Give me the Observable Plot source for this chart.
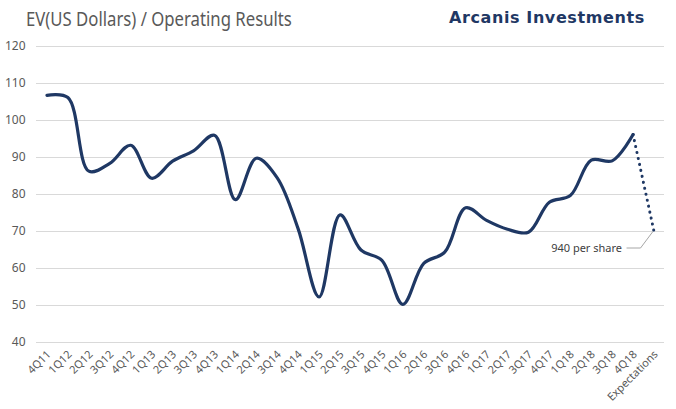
<!DOCTYPE html>
<html>
<head>
<meta charset="utf-8">
<script src="https://cdn.jsdelivr.net/npm/d3@7"></script>
<script src="https://cdn.jsdelivr.net/npm/@observablehq/plot@0.6"></script>
<style>
  html, body { margin: 0; padding: 0; background: #fff; }
  #wrap { position: relative; width: 676px; height: 409px; overflow: hidden; }
  #title { position: absolute; left: 26px; top: 6px; font-family: "Noto Sans", sans-serif; font-size: 19px; color: #595959; white-space: nowrap; transform: scaleX(0.88); transform-origin: left top; }
  #brand { position: absolute; left: 449px; top: 8px; font-family: "DejaVu Sans", sans-serif; font-weight: bold; font-size: 16px; color: #1F3864; white-space: nowrap; letter-spacing: 0.6px; }
  #chart { position: absolute; left: 0; top: 0; }
</style>
</head>
<body>
<div id="wrap">
  <div id="chart"></div>
  <div id="title">EV(US Dollars) / Operating Results</div>
  <div id="brand">Arcanis Investments</div>
</div>
<script>
const quarters = ["4Q11","1Q12","2Q12","3Q12","4Q12","1Q13","2Q13","3Q13","4Q13","1Q14","2Q14","3Q14","4Q14","1Q15","2Q15","3Q15","4Q15","1Q16","2Q16","3Q16","4Q16","1Q17","2Q17","3Q17","4Q17","1Q18","2Q18","3Q18","4Q18"];
const values = [106.8,106.2,86.3,88.4,93.3,84.4,89.0,91.8,96.0,78.6,89.8,84.5,70.7,52.3,74.5,65.0,62.2,50.3,61.4,64.4,76.4,73.0,70.6,69.8,77.9,79.7,89.3,89.1,96.2];
const expectationLabel = "Expectations";
const expectationValue = 70;
const annotationText = "940 per share";
const yTicks = [40,50,60,70,80,90,100,110,120];

const categories = [...quarters, expectationLabel];
const actual = quarters.map((q, i) => ({q, v: values[i]}));
const projected = [{q: quarters[quarters.length - 1], v: values[values.length - 1]}, {q: expectationLabel, v: expectationValue}];
const note = [{q: expectationLabel, v: expectationValue}];

const font = '"Noto Sans", sans-serif';

const chart = Plot.plot({
  width: 676,
  height: 409,
  marginLeft: 36,
  marginRight: 12,
  marginTop: 46,
  marginBottom: 67,
  style: {fontFamily: font, fontSize: "12px", color: "#595959", background: "transparent"},
  x: {type: "point", domain: categories, padding: 0.5, round: false},
  y: {domain: [40, 120]},
  marks: [
    Plot.gridY(yTicks, {stroke: "#d9d9d9", strokeOpacity: 1, strokeWidth: 1}),
    Plot.axisY(yTicks, {tickSize: 0, tickPadding: 11, fill: "#595959", fontSize: 12, label: null}),
    Plot.axisX(categories, {tickSize: 0, tickRotate: -45, tickPadding: 10, dx: 2, fill: "#595959", fontSize: 11, label: null}),
    Plot.line(actual, {x: "q", y: "v", curve: "catmull-rom", stroke: "#1F3864", strokeWidth: 3.2, strokeLinecap: "round"}),
    Plot.line(projected, {x: "q", y: "v", stroke: "#1F3864", strokeWidth: 3, strokeLinecap: "round", strokeDasharray: "0.1,6"}),
    Plot.text(note, {x: "q", y: "v", text: () => annotationText, dx: -32, dy: 17, textAnchor: "end", fill: "#404040", fontSize: 11}),
    Plot.line(note, {
      x: "q", y: "v",
      render: (index, scales, values, dims, ctx) => {
        const x = scales.x(expectationLabel);
        const y = scales.y(expectationValue);
        const g = d3.create("svg:path")
          .attr("d", `M${x - 27},${y + 17}L${x - 13},${y + 17}L${x - 1},${y + 1}`)
          .attr("fill", "none")
          .attr("stroke", "#a6a6a6")
          .attr("stroke-width", 1);
        return g.node();
      }
    })
  ]
});
document.getElementById("chart").appendChild(chart);
</script>
</body>
</html>
